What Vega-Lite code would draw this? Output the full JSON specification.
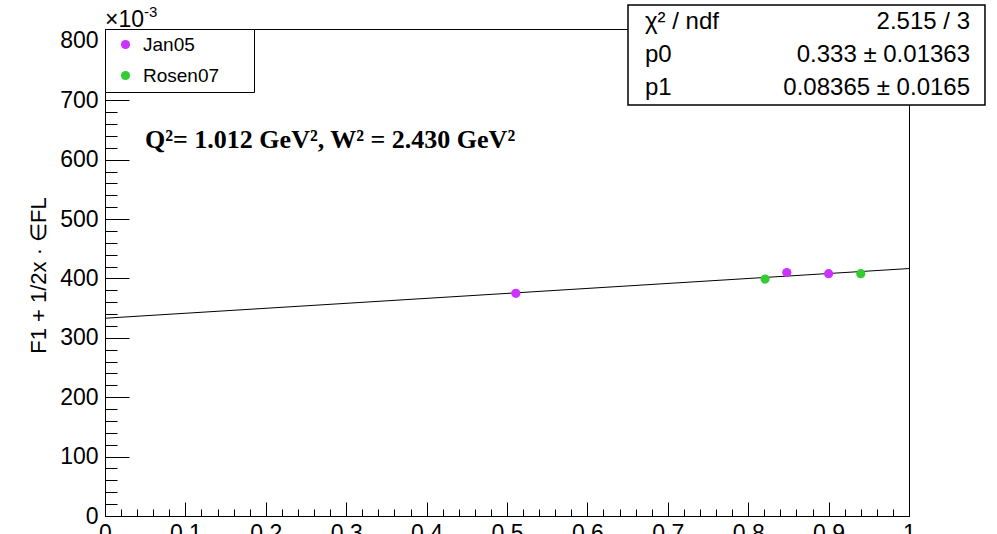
{
  "$schema": "https://vega.github.io/schema/vega-lite/v6.json",
  "width": 804,
  "height": 487,
  "autosize": "none",
  "padding": {"left": 105, "top": 29, "right": 88, "bottom": 18},
  "background": "white",
  "config": {
    "view": {"stroke": "black", "strokeWidth": 1},
    "font": "Liberation Sans",
    "axis": {
      "grid": false,
      "domainColor": "black",
      "tickColor": "black",
      "labelColor": "black",
      "titleColor": "black",
      "labelFont": "Liberation Sans",
      "titleFont": "Liberation Sans",
      "titleFontWeight": "normal",
      "tickWidth": 1,
      "domainWidth": 1
    }
  },
  "datasets": {
    "points": [
      {"x": 0.511, "y": 0.375, "set": "Jan05"},
      {"x": 0.848, "y": 0.410, "set": "Jan05"},
      {"x": 0.900, "y": 0.408, "set": "Jan05"},
      {"x": 0.821, "y": 0.399, "set": "Rosen07"},
      {"x": 0.940, "y": 0.408, "set": "Rosen07"}
    ],
    "fit": [
      {"x": 0, "y": 0.333},
      {"x": 1, "y": 0.41665}
    ],
    "stats": [
      {"name": "χ² / ndf", "value": "2.515 / 3"},
      {"name": "p0", "value": "0.333 ± 0.01363"},
      {"name": "p1", "value": "0.08365 ± 0.0165"}
    ],
    "kinematics": [
      {"label": "Q²= 1.012 GeV², W² = 2.430 GeV²"}
    ],
    "exponent": [
      {"base": "×10", "power": "-3"}
    ]
  },
  "layer": [
    {
      "layer": [
        {
          "data": {"name": "stats"},
          "transform": [{"aggregate": [{"op": "count", "as": "n"}]}],
          "mark": {"type": "rect", "fill": "white", "stroke": "black", "strokeWidth": 1.5},
          "encoding": {
            "x": {"datum": 0.6505, "type": "quantitative", "scale": {"domain": [0, 1], "nice": false, "zero": false}, "axis": null},
            "x2": {"datum": 1.0945},
            "y": {"datum": 0.8604, "type": "quantitative", "scale": {"domain": [0, 0.82], "nice": false, "zero": false}, "axis": null},
            "y2": {"datum": 0.692}
          }
        },
        {
          "data": {"name": "fit"},
          "mark": {"type": "line", "color": "black", "strokeWidth": 1, "clip": true},
          "encoding": {
            "x": {
              "field": "x", "type": "quantitative",
              "scale": {"domain": [0, 1], "nice": false, "zero": false},
              "axis": {
                "orient": "bottom", "title": null, "labels": false, "domain": false,
                "tickSize": -7,
                "values": [0.02, 0.04, 0.06, 0.08, 0.12, 0.14, 0.16, 0.18, 0.22, 0.24, 0.26, 0.28, 0.32, 0.34, 0.36, 0.38, 0.42, 0.44, 0.46, 0.48, 0.52, 0.54, 0.56, 0.58, 0.62, 0.64, 0.66, 0.68, 0.72, 0.74, 0.76, 0.78, 0.82, 0.84, 0.86, 0.88, 0.92, 0.94, 0.96, 0.98]
              }
            },
            "y": {
              "field": "y", "type": "quantitative",
              "scale": {"domain": [0, 0.82], "nice": false, "zero": false},
              "axis": {
                "orient": "left", "title": null, "labels": false, "domain": false,
                "tickSize": -12,
                "values": [0.02, 0.04, 0.06, 0.08, 0.12, 0.14, 0.16, 0.18, 0.22, 0.24, 0.26, 0.28, 0.32, 0.34, 0.36, 0.38, 0.42, 0.44, 0.46, 0.48, 0.52, 0.54, 0.56, 0.58, 0.62, 0.64, 0.66, 0.68, 0.72, 0.74, 0.76, 0.78, 0.82]
              }
            }
          }
        },
        {
          "data": {"name": "points"},
          "mark": {"type": "circle", "size": 85, "opacity": 1},
          "encoding": {
            "x": {
              "field": "x", "type": "quantitative",
              "scale": {"domain": [0, 1], "nice": false, "zero": false},
              "axis": {
                "orient": "bottom", "title": null,
                "values": [0, 0.1, 0.2, 0.3, 0.4, 0.5, 0.6, 0.7, 0.8, 0.9, 1],
                "tickSize": -14, "labelPadding": 20, "labelFontSize": 23,
                "labelExpr": "format(datum.value, '.1~f')",
                "labelFlush": false, "labelOverlap": false
              }
            },
            "y": {
              "field": "y", "type": "quantitative",
              "scale": {"domain": [0, 0.82], "nice": false, "zero": false},
              "axis": {
                "orient": "left",
                "title": "F1 + 1/2x · ∈FL",
                "titleFontSize": 22, "titleX": -67, "titleY": 246,
                "titleAngle": 270, "titleAlign": "center", "titleBaseline": "middle",
                "values": [0, 0.1, 0.2, 0.3, 0.4, 0.5, 0.6, 0.7, 0.8],
                "tickSize": -24, "labelPadding": 31, "labelFontSize": 23,
                "labelExpr": "format(datum.value * 1000, '.0f')",
                "labelFlush": false, "labelOverlap": false
              }
            },
            "color": {
              "field": "set", "type": "nominal",
              "scale": {"domain": ["Jan05", "Rosen07"], "range": ["#cc33ff", "#33cc33"]},
              "legend": {
                "orient": "none", "legendX": 0, "legendY": 0, "title": null,
                "padding": 6, "strokeColor": "black", "fillColor": "white", "cornerRadius": 0,
                "labelFontSize": 19, "labelFont": "Liberation Sans", "labelColor": "black",
                "symbolType": "circle", "symbolSize": 85, "symbolStrokeWidth": 0, "symbolOpacity": 1,
                "rowPadding": 11, "symbolOffset": 5, "labelOffset": 8,
                "labelExpr": "datum.label + '\u2800\u2800'"
              }
            }
          }
        },
        {
          "data": {"name": "kinematics"},
          "mark": {"type": "text", "align": "left", "baseline": "alphabetic", "font": "Liberation Serif", "fontWeight": "bold", "fontSize": 26, "color": "black"},
          "encoding": {
            "x": {"datum": 0.0498, "type": "quantitative", "scale": {"domain": [0, 1], "nice": false, "zero": false}, "axis": null},
            "y": {"datum": 0.6196, "type": "quantitative", "scale": {"domain": [0, 0.82], "nice": false, "zero": false}, "axis": null},
            "text": {"field": "label"}
          }
        },
        {
          "data": {"name": "exponent"},
          "mark": {"type": "text", "align": "left", "baseline": "alphabetic", "fontSize": 23, "color": "black"},
          "encoding": {
            "x": {"datum": 0, "type": "quantitative", "scale": {"domain": [0, 1], "nice": false, "zero": false}, "axis": null},
            "y": {"datum": 0.8234, "type": "quantitative", "scale": {"domain": [0, 0.82], "nice": false, "zero": false}, "axis": null},
            "text": {"field": "base"}
          }
        },
        {
          "data": {"name": "exponent"},
          "mark": {"type": "text", "align": "left", "baseline": "alphabetic", "fontSize": 15, "color": "black"},
          "encoding": {
            "x": {"datum": 0.0485, "type": "quantitative", "scale": {"domain": [0, 1], "nice": false, "zero": false}, "axis": null},
            "y": {"datum": 0.8402, "type": "quantitative", "scale": {"domain": [0, 0.82], "nice": false, "zero": false}, "axis": null},
            "text": {"field": "power"}
          }
        }
      ],
      "resolve": {"axis": {"x": "independent", "y": "independent"}}
    },
    {
      "data": {"name": "stats"},
      "mark": {"type": "text", "align": "left", "baseline": "middle", "fontSize": 24, "color": "black"},
      "encoding": {
        "x": {"datum": 0.6716, "type": "quantitative", "scale": {"domain": [0, 1], "nice": false, "zero": false}, "axis": null},
        "y": {"field": "name", "type": "ordinal", "scale": {"type": "point", "domain": ["χ² / ndf", "p0", "p1"], "range": [-7, 59], "padding": 0}, "axis": null},
        "text": {"field": "name"}
      }
    },
    {
      "data": {"name": "stats"},
      "mark": {"type": "text", "align": "right", "baseline": "middle", "fontSize": 24, "color": "black"},
      "encoding": {
        "x": {"datum": 1.0759, "type": "quantitative", "scale": {"domain": [0, 1], "nice": false, "zero": false}, "axis": null},
        "y": {"field": "name", "type": "ordinal", "scale": {"type": "point", "domain": ["χ² / ndf", "p0", "p1"], "range": [-7, 59], "padding": 0}, "axis": null},
        "text": {"field": "value"}
      }
    }
  ],
  "resolve": {"scale": {"y": "independent"}}
}
